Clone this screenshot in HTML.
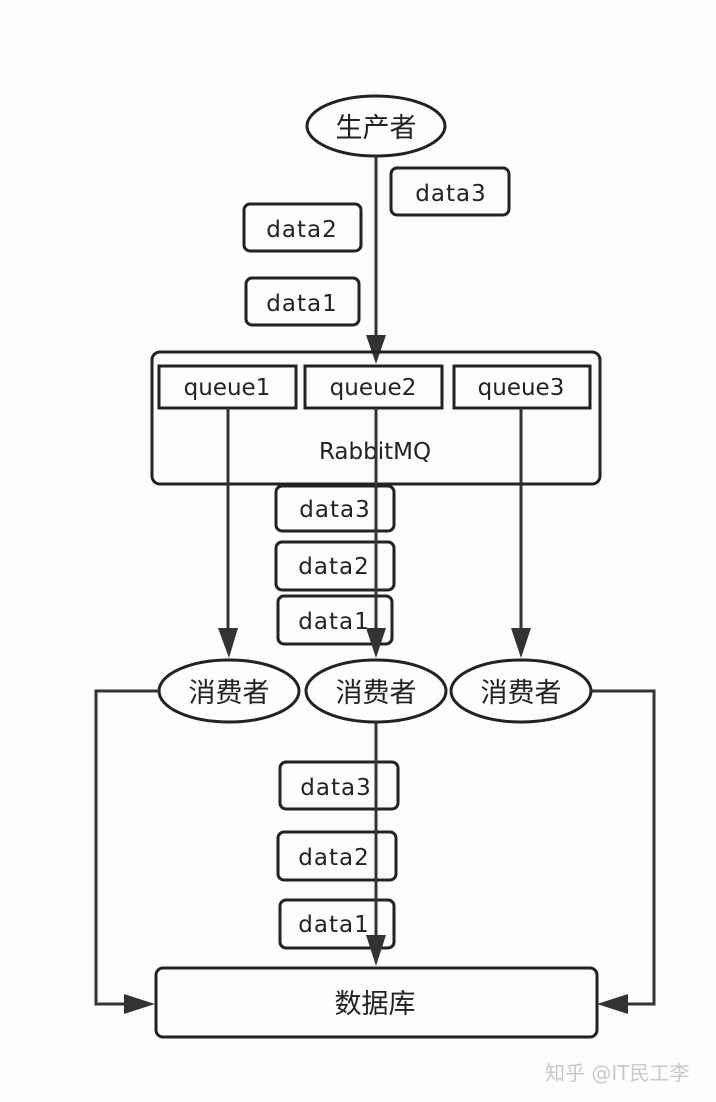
<!DOCTYPE html>
<html><head><meta charset="utf-8"><style>
html,body{margin:0;padding:0;background:#fdfdfd;}
svg{display:block;}
text{font-family:"DejaVu Sans","Noto Sans CJK SC",sans-serif;fill:#222;}
.d{letter-spacing:1px;}
.b{fill:none;stroke:#222;stroke-width:3;}
.l{fill:none;stroke:#333;stroke-width:3;}
.a{fill:#333;}
</style></head><body>
<svg width="716" height="1102" viewBox="0 0 716 1102" xmlns="http://www.w3.org/2000/svg">
<rect width="716" height="1102" fill="#fdfdfd"/>
<ellipse class="b" cx="376" cy="126" rx="69" ry="30" fill="#fff"/>
<text x="376" y="137" font-size="27" text-anchor="middle">生产者</text>
<rect class="b" x="391" y="168" width="118" height="47" rx="6"/>
<text class="d" x="451" y="201" font-size="23" text-anchor="middle">data3</text>
<rect class="b" x="244" y="204" width="117" height="47" rx="6"/>
<text class="d" x="302" y="237" font-size="23" text-anchor="middle">data2</text>
<rect class="b" x="246" y="278" width="113" height="47" rx="6"/>
<text class="d" x="302" y="311" font-size="23" text-anchor="middle">data1</text>
<line class="l" x1="376" y1="156" x2="376" y2="340"/>
<polygon class="a" points="366,335 386,335 376,364"/>
<rect class="b" x="152" y="352" width="448" height="132" rx="8"/>
<rect class="b" x="159" y="366" width="137" height="42"/>
<text x="227" y="395" font-size="23" text-anchor="middle">queue1</text>
<rect class="b" x="305" y="366" width="137" height="42"/>
<text x="373" y="395" font-size="23" text-anchor="middle">queue2</text>
<rect class="b" x="454" y="366" width="136" height="42"/>
<text x="521" y="395" font-size="23" text-anchor="middle">queue3</text>
<text x="375" y="459" font-size="23" text-anchor="middle">RabbitMQ</text>
<rect class="b" x="276" y="486" width="118" height="45" rx="6"/>
<text class="d" x="335" y="517" font-size="23" text-anchor="middle">data3</text>
<rect class="b" x="276" y="542" width="118" height="48" rx="6"/>
<text class="d" x="334" y="574" font-size="23" text-anchor="middle">data2</text>
<rect class="b" x="278" y="596" width="114" height="48" rx="6"/>
<text class="d" x="334" y="629" font-size="23" text-anchor="middle">data1</text>
<line class="l" x1="228" y1="408" x2="228" y2="632"/>
<polygon class="a" points="218,628 238,628 229,658"/>
<line class="l" x1="376" y1="408" x2="376" y2="632"/>
<polygon class="a" points="366,628 386,628 376,658"/>
<line class="l" x1="521" y1="408" x2="521" y2="632"/>
<polygon class="a" points="511,628 531,628 521,658"/>
<ellipse class="b" cx="229" cy="691" rx="70" ry="31" fill="#fff"/>
<text x="229" y="702" font-size="27" text-anchor="middle">消费者</text>
<ellipse class="b" cx="376" cy="691" rx="70" ry="31" fill="#fff"/>
<text x="376" y="702" font-size="27" text-anchor="middle">消费者</text>
<ellipse class="b" cx="521" cy="691" rx="70" ry="31" fill="#fff"/>
<text x="521" y="702" font-size="27" text-anchor="middle">消费者</text>
<polyline class="l" points="159,691 96,691 96,1004 135,1004"/>
<polygon class="a" points="124,994 124,1014 155,1004"/>
<polyline class="l" points="591,691 654,691 654,1004 617,1004"/>
<polygon class="a" points="628,994 628,1014 597,1004"/>
<rect class="b" x="280" y="762" width="118" height="47" rx="6"/>
<text class="d" x="336" y="795" font-size="23" text-anchor="middle">data3</text>
<rect class="b" x="278" y="832" width="118" height="48" rx="6"/>
<text class="d" x="334" y="865" font-size="23" text-anchor="middle">data2</text>
<rect class="b" x="280" y="900" width="114" height="48" rx="6"/>
<text class="d" x="334" y="932" font-size="23" text-anchor="middle">data1</text>
<line class="l" x1="376" y1="722" x2="376" y2="940"/>
<polygon class="a" points="366,935 386,935 376,966"/>
<rect class="b" x="156" y="968" width="441" height="69" rx="7"/>
<text x="375" y="1013" font-size="27" text-anchor="middle">数据库</text>
<text x="545" y="1080" font-size="20" style="fill:#c8c8c8">知乎 @IT民工李</text>
</svg>
</body></html>
